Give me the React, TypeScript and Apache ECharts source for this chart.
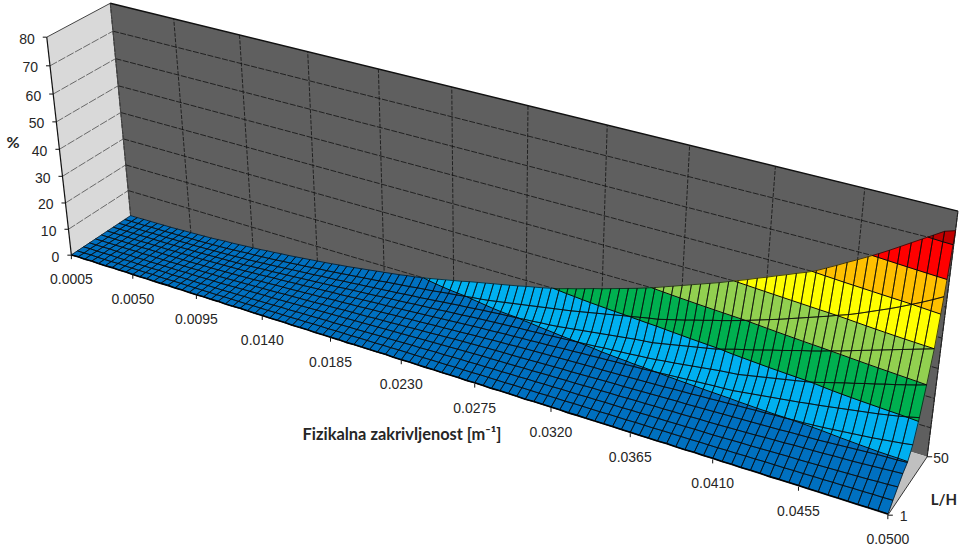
import React, { useEffect, useRef } from "react";
import * as echarts from "echarts";

const curvatureTicks = ["0.0005","0.0050","0.0095","0.0140","0.0185","0.0230","0.0275","0.0320","0.0365","0.0410","0.0455","0.0500"];
const percentTicks = [0,10,20,30,40,50,60,70,80];
const lhValues = [1,5,10,15,20,25,30,35,40,45,50];
const bandLevels = [0,10,20,30,40,50,60,70,80];
const bandColors = ["#0070C0","#00B0F0","#00B050","#92D050","#FFFF00","#FFC000","#FF0000","#C00000"];

const lh1 = [.1,.2,.1,.2,.1,.1,.2,.1,.2,.1,.1,.2,.1,.1,.2,.1,.2,.1,.1,.2,.1,.2,.1,.1,.2,.2,.1,.2,.1,.2,.2,.1,.2,.2,.1,.2,.2,.2,.1,.2,.2,.2,.2,.3,.2,.2,.3,.2,.2,.3,.2,.3,.3,.2,.3,.3,.2,.3,.3,.3,.2,.3,.3,.3,.3,.2,.3,.3,.3,.3,.3,.3,.3,.3,.3,.3,.4,.3,.3,.4,.3,.4,.3,.4,.3,.4,.4,.3,.4,.4,.4,.4,.4,.4,.4,.4,.4,.4,.4,.4];
const lh5 = [.1,.1,.2,.1,.1,.1,.2,.1,.1,.1,.1,.2,.1,.1,.2,.2,.2,.2,.2,.2,.2,.3,.3,.3,.3,.4,.4,.4,.5,.5,.5,.6,.6,.7,.7,.7,.8,.8,.8,.9,.9,.9,1,1,1.1,1.1,1.1,1.1,1.2,1.2,1.2,1.3,1.3,1.3,1.4,1.4,1.4,1.4,1.5,1.5,1.5,1.5,1.6,1.6,1.6,1.7,1.7,1.7,1.7,1.8,1.8,1.8,1.9,1.9,1.9,2,2,2,2,2.1,2.1,2.1,2.2,2.2,2.3,2.3,2.4,2.4,2.4,2.5,2.5,2.6,2.6,2.7,2.7,2.8,2.8,2.9,2.9,3];
const lh10 = [.1,.2,.1,.1,.2,.1,.1,.2,.1,.1,.1,.2,.2,.1,.2,.2,.2,.2,.3,.3,.3,.4,.4,.5,.5,.6,.6,.7,.8,.8,.9,1,1,1.1,1.2,1.2,1.3,1.4,1.4,1.5,1.6,1.7,1.7,1.8,1.9,2,2,2.1,2.2,2.2,2.3,2.4,2.4,2.5,2.5,2.6,2.6,2.7,2.7,2.8,2.8,2.9,2.9,3,3,3,3.1,3.1,3.2,3.2,3.2,3.3,3.3,3.4,3.4,3.4,3.5,3.5,3.6,3.6,3.6,3.7,3.8,3.9,3.9,4,4.1,4.2,4.3,4.3,4.4,4.5,4.6,4.7,4.8,4.9,5,5.2,5.3,5.5];
const lh15 = [.1,.1,.1,.2,.1,.1,.2,.1,.2,.1,.2,.2,.2,.2,.3,.3,.3,.4,.4,.4,.5,.6,.7,.8,.9,1,1,1.1,1.2,1.3,1.4,1.5,1.6,1.7,1.8,1.9,2,2.1,2.2,2.3,2.4,2.5,2.6,2.7,2.8,2.9,3,3.1,3.2,3.3,3.4,3.5,3.6,3.7,3.7,3.8,3.8,3.9,4,4,4.1,4.2,4.2,4.3,4.3,4.4,4.5,4.5,4.6,4.6,4.7,4.8,4.8,4.9,4.9,5,5,5.1,5.2,5.2,5.3,5.4,5.5,5.6,5.7,5.9,6,6.1,6.3,6.4,6.5,6.6,6.8,6.9,7,7.2,7.4,7.6,7.8,8];
const lh20 = [.1,.1,.1,.1,.1,.1,.2,.1,.2,.2,.2,.2,.3,.3,.3,.4,.4,.5,.5,.6,.7,.8,.9,1,1.1,1.2,1.3,1.5,1.6,1.7,1.8,1.9,2.1,2.2,2.3,2.5,2.6,2.7,2.8,3,3.1,3.2,3.4,3.5,3.7,3.8,3.9,4.1,4.2,4.4,4.5,4.6,4.7,4.8,4.9,5,5,5.1,5.2,5.3,5.4,5.5,5.6,5.6,5.7,5.8,5.9,6,6.1,6.1,6.2,6.3,6.4,6.5,6.6,6.7,6.7,6.8,6.9,7,7.1,7.2,7.3,7.4,7.5,7.6,7.7,7.9,8,8.1,8.2,8.4,8.6,8.8,9,9.2,9.4,9.5,9.6,9.8];
const lh25 = [.1,.1,.1,.1,.1,.1,.1,.2,.2,.2,.2,.3,.3,.3,.4,.5,.5,.6,.7,.8,.9,1,1.1,1.3,1.4,1.6,1.7,1.8,2,2.1,2.3,2.4,2.6,2.8,2.9,3.1,3.2,3.4,3.6,3.7,3.9,4.1,4.2,4.4,4.5,4.7,4.9,5,5.2,5.3,5.5,5.7,5.8,6,6.1,6.2,6.4,6.5,6.6,6.7,6.8,6.9,7,7.1,7.2,7.3,7.3,7.4,7.5,7.6,7.7,7.8,7.9,8,8.2,8.3,8.4,8.6,8.7,8.9,9,9.2,9.3,9.5,9.6,9.8,9.9,10.1,10.2,10.4,10.6,10.9,11.2,11.5,11.8,12.1,12.5,12.9,13.3,13.8];
const lh30 = [.1,.1,.1,.1,.1,.1,.2,.2,.2,.2,.3,.3,.4,.4,.5,.6,.7,.8,.9,1,1.1,1.3,1.4,1.6,1.8,1.9,2.1,2.3,2.4,2.6,2.8,3,3.2,3.3,3.5,3.7,3.9,4.1,4.3,4.4,4.6,4.8,5,5.2,5.4,5.6,5.8,6,6.2,6.4,6.6,6.8,6.9,7.1,7.3,7.4,7.6,7.7,7.9,8,8.2,8.4,8.5,8.7,8.8,9,9.1,9.3,9.4,9.6,9.7,9.9,10.1,10.3,10.5,10.7,10.9,11.1,11.3,11.4,11.6,12,12.4,12.8,13.2,13.6,14,14.4,14.9,15.3,15.8,16.3,16.8,17.3,17.8,18.3,18.9,19.5,20.2,21];
const lh35 = [.1,.1,.1,.1,.1,.2,.2,.2,.2,.3,.3,.4,.4,.5,.6,.7,.8,.9,1,1.1,1.3,1.5,1.7,1.8,2,2.2,2.4,2.6,2.8,3,3.2,3.4,3.6,3.9,4.1,4.3,4.5,4.7,5,5.2,5.4,5.6,5.9,6.1,6.3,6.5,6.8,7,7.2,7.5,7.7,7.9,8.1,8.3,8.5,8.7,8.8,9,9.2,9.4,9.6,9.8,10,10.2,10.4,10.7,10.9,11.1,11.3,11.6,11.8,12.1,12.5,12.8,13.2,13.6,14,14.4,14.8,15.1,15.4,16,16.6,17.2,17.8,18.4,19,19.6,20.3,21.2,22.1,23,23.8,24.7,25.5,26.4,27.2,28.1,29,30];
const lh40 = [.1,.1,.1,.1,.1,.2,.2,.2,.3,.3,.4,.4,.5,.6,.7,.8,.9,1,1.2,1.3,1.5,1.7,1.9,2.1,2.3,2.6,2.8,3,3.2,3.5,3.7,3.9,4.2,4.4,4.7,4.9,5.2,5.4,5.7,5.9,6.2,6.5,6.7,7,7.3,7.6,7.9,8.2,8.4,8.7,9,9.2,9.5,9.7,9.9,10.2,10.4,10.7,10.9,11.2,11.6,12,12.4,12.8,13.2,13.6,14,14.4,14.8,15.1,15.4,16,16.6,17.2,17.8,18.4,19,19.6,20.5,21.4,22.2,23,23.9,24.8,25.6,26.5,27.4,28.2,29.1,30.1,31,32,33,34,35,36,37,38,39,40];
const lh45 = [.1,.1,.1,.1,.2,.2,.2,.3,.3,.4,.5,.5,.6,.7,.8,.9,1.1,1.3,1.5,1.6,1.8,2,2.2,2.5,2.7,3,3.2,3.5,3.8,4,4.3,4.6,4.9,5.2,5.5,5.8,6.1,6.5,6.8,7.1,7.4,7.8,8.1,8.4,8.8,9.2,9.5,9.9,10.3,10.6,11,11.5,12,12.5,13,13.5,14,14.5,15,15.5,16,16.6,17.2,17.8,18.4,19,19.6,20.2,20.8,21.4,21.9,22.7,23.5,24.3,25.2,26,26.9,27.7,28.6,29.5,30.5,31.5,32.5,33.5,34.6,35.7,36.8,37.9,39,40.2,41.3,42.6,44,45.4,46.8,48.3,49.9,51.5,53.2,55];
const lh50 = [.1,.1,.2,.2,.2,.3,.3,.4,.5,.6,.7,.8,.9,1.1,1.3,1.4,1.6,1.8,2,2.2,2.5,2.7,3,3.2,3.5,3.8,4.1,4.4,4.7,5,5.4,5.7,6.1,6.5,6.9,7.3,7.7,8.1,8.5,9,9.4,9.9,10.5,11.1,11.7,12.3,12.9,13.6,14.2,14.8,15.4,16,16.6,17.2,17.9,18.5,19.1,19.8,20.5,21.4,22.2,23.1,24,24.8,25.7,26.6,27.5,28.4,29.4,30.4,31.5,32.6,33.7,34.8,35.9,37,38.1,39.3,40.5,41.7,43,44.2,45.5,46.7,48,49.2,50.6,52.3,54,55.8,57.5,59.3,61.1,63,65,67,69,71,73,74];
const surfaceRows = [lh1,lh5,lh10,lh15,lh20,lh25,lh30,lh35,lh40,lh45,lh50];

// Camera: corners of the 3D box (u, v, w) as seen on screen
const boxCorners: number[][] = [
  [0,0,0,71,255],[0,1,0,131,216],[1,0,0,888,515],[1,1,0,927,457],
  [0,0,1,47,37.5],[0,1,1,110,3],[1,1,1,958,211],
];

function solveCamera(c: number[][]) {
  const n = 11;
  const A = Array.from({ length: n }, () => new Array(n + 1).fill(0));
  const add = (r: number[], b: number) => {
    for (let i = 0; i < n; i++) {
      for (let j = 0; j < n; j++) A[i][j] += r[i] * r[j];
      A[i][n] += r[i] * b;
    }
  };
  for (const [u, v, w, px, py] of c) {
    const x = px / 500, y = py / 500;
    add([u, v, w, 1, 0, 0, 0, 0, -x * u, -x * v, -x * w], x);
    add([0, 0, 0, 0, u, v, w, 1, -y * u, -y * v, -y * w], y);
  }
  for (let i = 0; i < n; i++) {
    let p = i;
    for (let k = i + 1; k < n; k++) if (Math.abs(A[k][i]) > Math.abs(A[p][i])) p = k;
    [A[i], A[p]] = [A[p], A[i]];
    for (let k = 0; k < n; k++) {
      if (k === i) continue;
      const f = A[k][i] / A[i][i];
      for (let j = i; j <= n; j++) A[k][j] -= f * A[i][j];
    }
  }
  return A.map((row, i) => row[n] / row[i]);
}
const cam = solveCamera(boxCorners);
const project = (u: number, v: number, w: number): [number, number] => {
  const d = cam[8] * u + cam[9] * v + cam[10] * w + 1;
  return [
    (500 * (cam[0] * u + cam[1] * v + cam[2] * w + cam[3])) / d,
    (500 * (cam[4] * u + cam[5] * v + cam[6] * w + cam[7])) / d,
  ];
};
const nCols = lh1.length, nRows = surfaceRows.length;
const zMax = percentTicks[percentTicks.length - 1];
const toPx = (c: number[]) => project(c[0] / (nCols - 1), c[1] / (nRows - 1), c[2] / zMax);

function clip(poly: number[][], level: number, keepAbove: boolean) {
  const out: number[][] = [];
  for (let i = 0; i < poly.length; i++) {
    const a = poly[i], b = poly[(i + 1) % poly.length];
    const ina = keepAbove ? a[2] >= level : a[2] <= level;
    const inb = keepAbove ? b[2] >= level : b[2] <= level;
    if (ina) out.push(a);
    if (ina !== inb) {
      const t = (level - a[2]) / (b[2] - a[2]);
      out.push([a[0] + t * (b[0] - a[0]), a[1] + t * (b[1] - a[1]), level]);
    }
  }
  return out;
}
function crossings(poly: number[][], level: number) {
  const out: number[][] = [];
  for (let i = 0; i < poly.length; i++) {
    const a = poly[i], b = poly[(i + 1) % poly.length];
    if ((a[2] < level) !== (b[2] < level)) {
      const t = (level - a[2]) / (b[2] - a[2]);
      out.push([a[0] + t * (b[0] - a[0]), a[1] + t * (b[1] - a[1]), level]);
    }
  }
  return out;
}
const cellQuad = (api: any) => {
  const i = api.value(0), j = api.value(1);
  return [[i, j, api.value(2)], [i + 1, j, api.value(3)], [i + 1, j + 1, api.value(4)], [i, j + 1, api.value(5)]];
};

const cellData: number[][] = [];
for (let j = nRows - 2; j >= 0; j--) {
  for (let i = 0; i < nCols - 1; i++) {
    cellData.push([i, j, surfaceRows[j][i], surfaceRows[j][i + 1], surfaceRows[j + 1][i + 1], surfaceRows[j + 1][i]]);
  }
}

const renderFill = (_: any, api: any) => {
  const q = cellQuad(api);
  const children: any[] = [];
  for (let b = 0; b < bandColors.length; b++) {
    const p = clip(clip(q, bandLevels[b], true), bandLevels[b + 1], false);
    if (p.length < 3) continue;
    children.push({
      type: "polygon", shape: { points: p.map(toPx) },
      style: { fill: bandColors[b], stroke: bandColors[b], lineWidth: 0.5 }, silent: true,
    });
  }
  return { type: "group", children };
};
const LINE = "#0a0a0a";
const renderMesh = (_: any, api: any) => {
  const q = cellQuad(api);
  const children: any[] = [{
    type: "polygon", shape: { points: q.map(toPx) },
    style: { fill: "none", stroke: LINE, lineWidth: 0.7 }, silent: true,
  }];
  if (api.value(1) === 0) {
    children.push({
      type: "polyline", shape: { points: [toPx(q[0]), toPx(q[1])] },
      style: { fill: "none", stroke: "#000", lineWidth: 1.6 }, silent: true,
    });
  }
  for (const lv of bandLevels) {
    const c = crossings(q, lv);
    if (c.length >= 2) {
      children.push({
        type: "polyline", shape: { points: [toPx(c[0]), toPx(c[1])] },
        style: { fill: "none", stroke: LINE, lineWidth: 1 }, silent: true,
      });
    }
  }
  return { type: "group", children };
};

const line = (a: number[], b: number[], stroke: string, lineWidth: number, lineDash?: number[]) => ({
  type: "polyline", shape: { points: [a, b] }, silent: true,
  style: { fill: "none", stroke, lineWidth, lineDash },
});
const wall = (pts: number[][], fill: string) => ({
  type: "polygon", shape: { points: pts }, silent: true,
  style: { fill, stroke: "none" },
});
const tickUs = curvatureTicks.map((_, k) => (k * 9) / (nCols - 1));

const renderWalls = () => {
  const children: any[] = [
    wall([project(0,0,0), project(0,1,0), project(0,1,1), project(0,0,1)], "#D9D9D9"),
    wall([project(0,1,0), project(1,1,0), project(1,1,1), project(0,1,1)], "#5F5F5F"),
    wall([project(0,0,0), project(1,0,0), project(1,1,0), project(0,1,0)], "#C0C0C0"),
  ];
  for (const t of percentTicks) {
    const w = t / zMax;
    if (t > 0 && t < zMax) {
      children.push(line(project(0,0,w), project(0,1,w), "#3a3a3a", 0.7, [8, 1.5]));
      children.push(line(project(0,1,w), project(1,1,w), "#111", 0.8, [6, 1.5]));
    }
  }
  for (const u of tickUs) children.push(line(project(u,1,0), project(u,1,1), "#111", 0.8, [4, 1.5]));
  children.push(line(project(0,0,1), project(0,1,1), "#444", 1));
  children.push(line(project(0,1,0), project(0,1,1), "#444", 1));
  children.push(line(project(0,1,1), project(1,1,1), "#111", 1.4));
  children.push(line(project(1,1,0), project(1,1,1), "#222", 1));
  children.push(line(project(1,0,0), project(1,1,0), "#333", 1));
  children.push(line(project(0,0,0), project(0,0,1), "#111", 1.2));
  return { type: "group", children };
};

const FONT = '14px "Liberation Sans", Arial, sans-serif';
const titleFont = (size: number) => `bold ${size}px Lato, "Open Sans", sans-serif`;
const txt = (text: string, x: number, y: number, font: string, align: string) => ({
  type: "text", silent: true, x, y,
  style: { text, font, fill: "#262626", align, verticalAlign: "middle" },
});
const renderAxes = () => {
  const children: any[] = [];
  percentTicks.forEach((t) => {
    const p = project(0, 0, t / zMax);
    children.push(line([p[0] - 4, p[1]], p, "#111", 1));
    children.push(txt(String(t), p[0] - 12, p[1] + 1.5, FONT, "right"));
  });
  curvatureTicks.forEach((label, k) => {
    const p = project(tickUs[k], 0, 0);
    children.push(line(p, [p[0], p[1] + 4], "#111", 1));
    children.push(txt(label, p[0], p[1] + 24, FONT, "center"));
  });
  const lh0 = project(1, 0, 0), lhN = project(1, 1, 0);
  children.push(line(lh0, [lh0[0] + 5, lh0[1]], "#111", 1));
  children.push(line(lhN, [lhN[0] + 5, lhN[1]], "#111", 1));
  children.push(txt(String(lhValues[0]), lh0[0] + 12, lh0[1] + 1, FONT, "left"));
  children.push(txt(String(lhValues[lhValues.length - 1]), lhN[0] + 6, lhN[1] + 1, FONT, "left"));
  children.push(txt("%", 13, 141, titleFont(16), "center"));
  children.push(txt("L/H", 944, 499, titleFont(15), "center"));
  children.push(txt("Fizikalna zakrivljenost [m⁻¹]", 402, 433, titleFont(16.4), "center"));
  return { type: "group", children };
};

export default function App() {
  const ref = useRef<HTMLDivElement>(null);
  useEffect(() => {
    document.body.style.margin = "0";
    const chart = echarts.init(ref.current!, undefined, { renderer: "svg" });
    chart.setOption({
      animation: false,
      backgroundColor: "#fff",
      series: [
        { type: "custom", coordinateSystem: "none", data: [[0]], renderItem: renderWalls, silent: true },
        { type: "custom", coordinateSystem: "none", data: cellData, renderItem: renderFill, silent: true },
        { type: "custom", coordinateSystem: "none", data: cellData, renderItem: renderMesh, silent: true },
        { type: "custom", coordinateSystem: "none", data: [[0]], renderItem: renderAxes, silent: true },
      ],
    });
    return () => chart.dispose();
  }, []);
  return <div ref={ref} style={{ width: 959, height: 551 }} />;
}
